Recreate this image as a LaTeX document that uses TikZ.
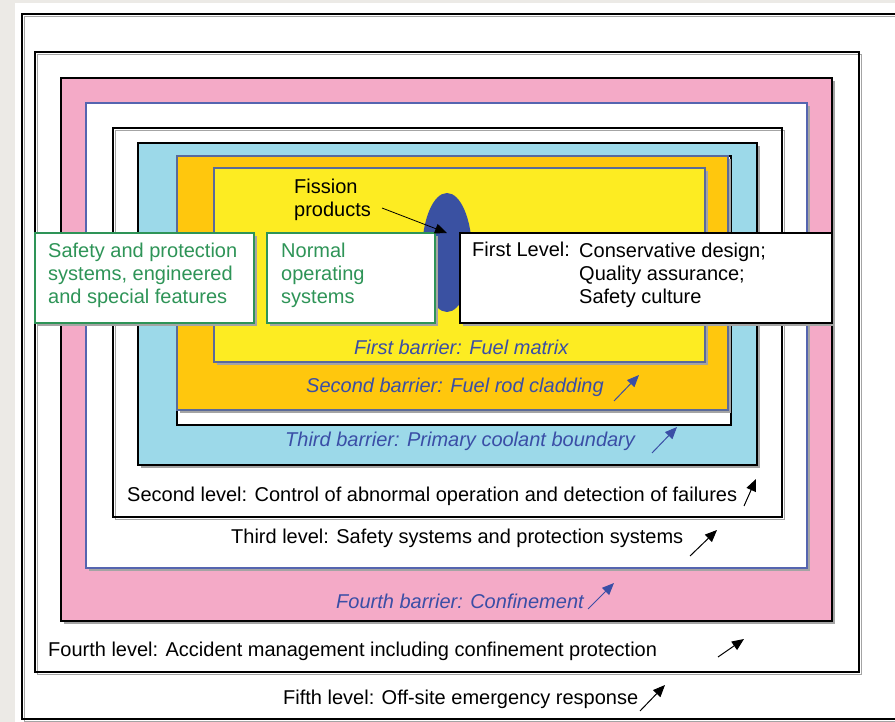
\documentclass[tikz,border=0pt]{standalone}
\usepackage{fontspec}
\setmainfont{Liberation Sans}
\usetikzlibrary{arrows.meta}
\definecolor{pagegray}{HTML}{ECEAE6}
\definecolor{shgray}{HTML}{A4A4A4}
\definecolor{pinkf}{HTML}{F4AAC7}
\definecolor{cyanf}{HTML}{9CD9E9}
\definecolor{orangef}{HTML}{FFC70D}
\definecolor{yellowf}{HTML}{FDEC22}
\definecolor{blueb}{HTML}{5565B0}
\definecolor{blueg}{HTML}{5A6A9A}
\definecolor{ellblue}{HTML}{3A51A2}
\definecolor{bluet}{HTML}{3A4EA6}
\definecolor{greenb}{HTML}{2E9457}
\tikzset{
  txt/.style={font=\fontsize{20}{23.5}\selectfont, inner sep=0pt, anchor=base west, align=left},
  btxt/.style={txt, text=bluet, font=\fontsize{20}{23.5}\selectfont\itshape},
  gtxt/.style={txt, text=greenb},
  arr/.style={-{Triangle[length=12pt,width=10pt]}, line width=1pt, black},
  barr/.style={arr, bluet},
  outl/.style={line width=1.3pt, draw=black},
  shline/.style={line width=1.3pt, draw=shgray},
}
\newcommand\oshrect[5]{% outline rect with outline shadow: style, x1,y1,x2,y2
  \draw[shline] (#2+2.5,#3+2.5) rectangle (#4+2.5,#5+2.5);
  \draw[#1] (#2,#3) rectangle (#4,#5);}
\newcommand\fshrect[5]{% filled rect with filled shadow
  \fill[shgray] (#2+3,#3+3) rectangle (#4+3,#5+3);
  \filldraw[#1] (#2,#3) rectangle (#4,#5);}
\begin{document}
\begin{tikzpicture}[x=1pt,y=-1pt]
\useasboundingbox (0,0) rectangle (895,722);
\clip (0,0) rectangle (895,722);
% page
\fill[pagegray] (0,0) rectangle (895,722);
\fill[white] (15,3) rectangle (895,722);
% Fifth level frame
\oshrect{outl}{22}{14}{898}{719}
% Fourth level frame
\oshrect{outl}{35}{52}{859}{672}
% Fourth barrier (pink)
\fshrect{fill=pinkf, draw=black, line width=1.3pt}{61}{78}{832}{621}
% Third level frame
\fshrect{fill=white, draw=blueb, line width=1.1pt}{86}{103}{807}{568}
% Second level frame
\oshrect{outl}{113}{128}{782}{517}
% Third barrier (cyan)
\fshrect{fill=cyanf, draw=black, line width=1.3pt}{138}{143}{757}{465}
% white strip below cladding
\filldraw[fill=white, draw=black, line width=1.2pt] (177,156) rectangle (731,425);
% Second barrier (orange)
\fshrect{fill=orangef, draw=blueg, line width=1.1pt}{177}{156}{728}{410}
% First barrier (yellow)
\fshrect{fill=yellowf, draw=blueg, line width=1.1pt}{214}{168}{705}{362}
% fission products blob
\fill[ellblue] (447,252.5) ellipse [x radius=25, y radius=59.5];
% boxes
\fshrect{fill=white, draw=greenb, line width=1.3pt}{35}{233}{254}{323}
\fshrect{fill=white, draw=greenb, line width=1.3pt}{267}{233}{435}{323}
\fshrect{fill=white, draw=black, line width=1.3pt}{460}{233}{832}{323}

% texts (multi-line nodes anchored at the baseline of their last line)
\node[gtxt] (safety) at (48,304) {Safety and protection\\systems, engineered\\and special features};
\node[gtxt] (normal) at (281,304) {Normal\\operating\\systems};
\node[txt] (fission) at (294,217) {Fission\\products};
\node[txt] (firstlevel) at (472,257) {First Level:};
\node[txt] (firstitems) at (579,304) {Conservative design;\\Quality assurance;\\Safety culture};
\node[btxt] (b1) at (354,355) {First barrier: Fuel matrix};
\node[btxt] (b2) at (306,392) {Second barrier: Fuel rod cladding};
\node[btxt] (b3) at (285,446) {Third barrier: Primary coolant boundary};
\node[txt] (l2) at (127,501) {Second level: Control of abnormal operation and detection of failures};
\node[txt] (l3) at (231,543) {Third level: Safety systems and protection systems};
\node[btxt] (b4) at (336,608) {Fourth barrier: Confinement};
\node[txt] (l4) at (48,656) {Fourth level: Accident management including confinement protection};
\node[txt] (l5) at (283,704) {Fifth level: Off-site emergency response};

% arrows
\coordinate (fpS) at (382,208); \coordinate (fpE) at (447,233);
\draw[arr, line width=0.8pt] (fpS) -- (fpE);
\coordinate (b2S) at (614,401); \coordinate (b2E) at (639,375);
\draw[barr] (b2S) -- (b2E);
\coordinate (b3S) at (652,453); \coordinate (b3E) at (677,427);
\draw[barr] (b3S) -- (b3E);
\coordinate (l2S) at (744,506); \coordinate (l2E) at (756,479);
\draw[arr] (l2S) -- (l2E);
\coordinate (l3S) at (690,556); \coordinate (l3E) at (717,530);
\draw[arr] (l3S) -- (l3E);
\coordinate (b4S) at (588,609); \coordinate (b4E) at (614,583);
\draw[barr] (b4S) -- (b4E);
\coordinate (l4S) at (718,657); \coordinate (l4E) at (744,639);
\draw[arr] (l4S) -- (l4E);
\coordinate (l5S) at (640,711); \coordinate (l5E) at (665,685);
\draw[arr] (l5S) -- (l5E);
\end{tikzpicture}
\end{document}
